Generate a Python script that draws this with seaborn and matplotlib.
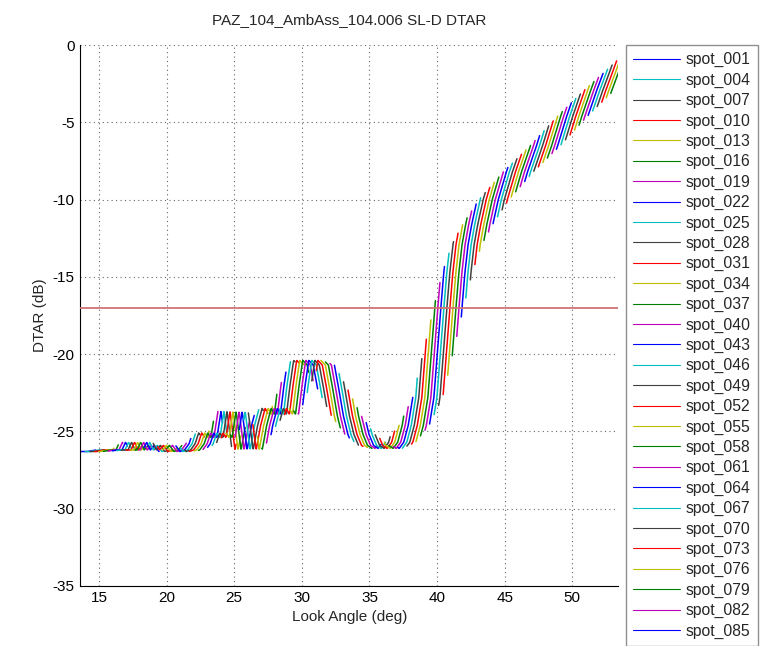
import numpy as np
import pandas as pd
import matplotlib
matplotlib.use("Agg")
import matplotlib.pyplot as plt
from matplotlib.lines import Line2D
import seaborn as sns

# Underlying DTAR pattern (look angle in deg, DTAR in dB)
env_angle = [11.0, 14.0, 16.0, 17.0, 17.8, 18.6, 19.5, 20.5, 21.5, 22.5, 23.3,
             24.0, 24.9, 26.0, 27.0, 28.0, 28.7, 29.5, 30.3, 31.3, 32.3, 33.3,
             34.3, 35.3, 36.3, 37.3, 38.3, 39.3, 40.1, 40.9, 41.5, 42.2, 43.0,
             44.2, 46.0, 48.0, 50.0, 52.0, 53.4, 56.0]
env_dtar = [-26.3, -26.3, -26.2, -26.2, -25.7, -26.2, -25.9, -26.3, -26.2, -25.8, -25.1,
            -25.4, -23.7, -26.2, -24.6, -23.5, -23.9, -22.0, -20.4, -20.7, -22.3, -24.0,
            -25.2, -25.9, -26.1, -25.7, -24.6, -22.8, -19.8, -16.8, -14.7, -12.9, -11.6,
            -10.0, -8.2, -6.5, -4.6, -2.9, -1.8, 0.3]

# Spots (every third spot plotted)
n_spots = 118
spot_labels = [f"spot_{i:03d}" for i in range(1, 3 * n_spots, 3)]
n_legend = 29           # entries that fit in the visible legend box
first_center = 14.2     # deg, centre of first spot
center_step = 0.335     # deg between plotted spots
spot_span = 1.1         # deg covered by one spot
pattern_stretch = 3.0

threshold_db = -17.0
title = "PAZ_104_AmbAss_104.006 SL-D DTAR"

spot_colors = [(0, 0, 1), (0, 0.75, 0.75), (0.25, 0.25, 0.25), (1, 0, 0),
               (0.75, 0.75, 0), (0, 0.5, 0), (0.75, 0, 0.75)]

rows = []
for k, lab in enumerate(spot_labels):
    c = first_center + center_step * k
    xs = np.linspace(c - spot_span / 2, c + spot_span / 2, 40)
    ys = np.interp(c + pattern_stretch * (xs - c), env_angle, env_dtar)
    for x, y in zip(xs, ys):
        rows.append((lab, x, y))
df = pd.DataFrame(rows, columns=["spot", "angle", "dtar"])

sns.set_style("white")
plt.rcParams["font.family"] = ["Liberation Sans", "DejaVu Sans"]
plt.rcParams["axes.unicode_minus"] = False

fig = plt.figure(figsize=(7.7, 6.46), dpi=100)
ax = fig.add_axes([0.104, 0.093, 0.699, 0.837])

palette = {lab: spot_colors[i % 7] for i, lab in enumerate(spot_labels)}
sns.lineplot(data=df, x="angle", y="dtar", hue="spot", palette=palette,
             estimator=None, sort=False, legend=False, linewidth=1.1, ax=ax)
ax.axhline(threshold_db, color=(0.82, 0.45, 0.45), linewidth=1.3, zorder=5)

ax.set_xlim(13.6, 53.4)
ax.set_ylim(-35, 0)
ax.set_xticks([15, 20, 25, 30, 35, 40, 45, 50])
ax.set_yticks([0, -5, -10, -15, -20, -25, -30, -35])
ax.grid(True, linestyle=(0, (1, 3)), color="0.4", linewidth=0.8)
for s in ["top", "right"]:
    ax.spines[s].set_visible(False)
for s in ["left", "bottom"]:
    ax.spines[s].set_color("black")
    ax.spines[s].set_linewidth(0.8)
ax.tick_params(direction="in", length=4, width=0.8, labelsize=11,
               colors="black", pad=4)
ax.set_xlabel("Look Angle (deg)", fontsize=11, labelpad=3)
ax.set_ylabel("DTAR (dB)", fontsize=11, labelpad=4)
ax.set_title(title, fontsize=11, pad=15)

handles = [Line2D([0], [0], color=spot_colors[i % 7], linewidth=0.8)
           for i in range(n_legend)]
leg = fig.legend(handles, spot_labels[:n_legend], loc="upper left",
                 bbox_to_anchor=(0.813, 0.930), borderaxespad=0.0,
                 fontsize=11.3, frameon=True, fancybox=False, edgecolor="0.45",
                 handlelength=3.0, handletextpad=0.35, labelspacing=0.335,
                 borderpad=0.45)
leg.get_frame().set_linewidth(1.0)

fig.savefig("out.png", dpi=100)
